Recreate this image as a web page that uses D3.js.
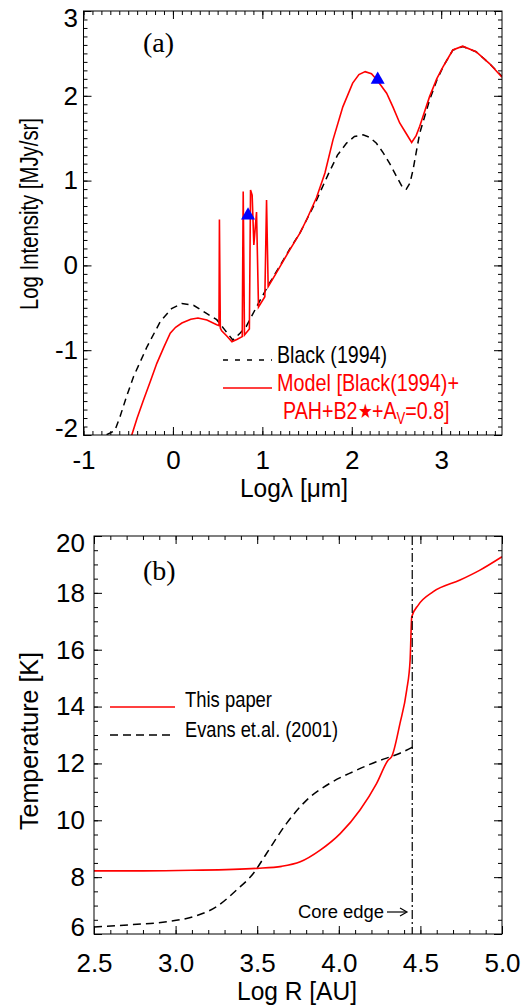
<!DOCTYPE html>
<html>
<head>
<meta charset="utf-8">
<script src="https://cdn.jsdelivr.net/npm/d3@7"></script>
<style>
  body { margin: 0; background: #fff; }
  svg { display: block; }
</style>
</head>
<body>
<svg id="chart" width="524" height="1005"></svg>
<script>
// ---- panel (a): SED, log lambda [um] vs log intensity [MJy/sr]
var lamBlack = [-1.0, -0.93, -0.75, -0.65, -0.59, -0.52, -0.44, -0.29, -0.14, -0.015, 0.10, 0.23, 0.38, 0.49, 0.58, 0.67,
    0.75, 0.82, 0.95, 1.08, 1.20, 1.31, 1.42, 1.606, 1.735, 1.84, 1.94, 2.03, 2.126, 2.20, 2.276, 2.35, 2.425, 2.50,
    2.573, 2.61, 2.65, 2.685, 2.72, 2.76, 2.87, 2.95, 3.02, 3.13, 3.243, 3.39, 3.54, 3.68];
var intBlack = [-2.07, -2.04, -2.0, -1.95, -1.78, -1.55, -1.31, -0.96, -0.66, -0.51, -0.45, -0.47, -0.57, -0.64, -0.76, -0.88,
    -0.80, -0.72, -0.46, -0.21, 0.0, 0.20, 0.38, 0.77, 1.07, 1.30, 1.44, 1.52, 1.54, 1.51, 1.44, 1.33, 1.20, 1.05,
    0.91, 0.90, 0.97, 1.125, 1.33, 1.56, 1.95, 2.18, 2.34, 2.54, 2.58, 2.52, 2.38, 2.23];

var lamModel = [-0.49, -0.46, -0.40, -0.33, -0.25, -0.18, -0.10, -0.03, 0.03, 0.10, 0.20, 0.28, 0.38, 0.49,
    0.515, 0.52, 0.53, 0.545, 0.60, 0.66, 0.72, 0.775, 0.786, 0.80, 0.855, 0.868, 0.886, 0.905, 0.935, 0.957,
    1.028, 1.047, 1.065, 1.15, 1.31, 1.42, 1.50, 1.606, 1.70, 1.79, 1.90, 2.01, 2.08, 2.15, 2.22, 2.28, 2.39,
    2.46, 2.536, 2.60, 2.67, 2.72, 2.76, 2.87, 2.95, 3.02, 3.13, 3.24, 3.39, 3.54, 3.68];
var intModel = [-2.15, -2.0, -1.80, -1.59, -1.36, -1.155, -0.96, -0.80, -0.73, -0.68, -0.635, -0.62, -0.645, -0.70,
    -0.71, 0.54, -0.74, -0.77, -0.83, -0.90, -0.87, -0.84, 0.87, -0.82, -0.75, 0.89, 0.83, 0.24, 0.63, -0.49,
    -0.37, 0.77, -0.25, -0.10, 0.19, 0.38, 0.55, 0.80, 1.09, 1.48, 1.87, 2.15, 2.25, 2.285, 2.26, 2.19, 2.03,
    1.87, 1.68, 1.57, 1.45, 1.53, 1.64, 1.99, 2.20, 2.34, 2.54, 2.585, 2.52, 2.38, 2.22];

var lamObs = [0.84, 2.29];
var intObs = [0.59, 2.19];

var aTicksX = [-1, 0, 1, 2, 3];
var aTicksY = [-2, -1, 0, 1, 2, 3];

// ---- panel (b): temperature profile
var logR = [2.5, 2.8, 3.1, 3.5, 3.65, 3.764, 3.886, 4.01, 4.13, 4.232, 4.303, 4.324, 4.375, 4.416, 4.437, 4.447,
    4.487, 4.579, 4.743, 4.865, 5.0];
var tempModel = [8.22, 8.22, 8.24, 8.31, 8.38, 8.54, 8.95, 9.54, 10.36, 11.3, 12.12, 12.24, 13.41, 14.58, 15.64, 17.16,
    17.57, 18.04, 18.45, 18.8, 19.27];

var logREvans = [2.5, 2.74, 2.945, 3.108, 3.25, 3.374, 3.476, 3.558, 3.68, 3.803, 3.945, 4.088, 4.23, 4.375, 4.477];
var tempEvans = [6.25, 6.33, 6.43, 6.61, 6.96, 7.55, 8.13, 8.84, 9.89, 10.71, 11.3, 11.71, 12.06, 12.36, 12.65];

var coreEdge = 4.45;

var bTicksX = [2.5, 3.0, 3.5, 4.0, 4.5, 5.0];
var bTicksY = [6, 8, 10, 12, 14, 16, 18, 20];

var FONT = "'Liberation Sans', Arial, sans-serif";
var RED = "#ff0000";

var svg = d3.select("#chart");
svg.append("rect").attr("width", 524).attr("height", 1005).attr("fill", "#fff");

function zip(xs, ys) {
    return xs.map(function (v, i) { return [v, ys[i]]; });
}

// IDL style box: ticks inward on all four sides, labels only left/bottom
function boxAxes(g, x, y, xMajor, xMinor, yMajor, yMinor, fmtX, fmtY, xLabelOff, yPad) {
    var xl = x.range()[0], xr = x.range()[1], yb = y.range()[0], yt = y.range()[1];

    var defs = [
        [d3.axisBottom(x).tickValues(xMinor).tickSize(-4), "translate(0," + yb + ")"],
        [d3.axisTop(x).tickValues(xMinor).tickSize(-4), "translate(0," + yt + ")"],
        [d3.axisLeft(y).tickValues(yMinor).tickSize(-4), "translate(" + xl + ",0)"],
        [d3.axisRight(y).tickValues(yMinor).tickSize(-4), "translate(" + xr + ",0)"],
        [d3.axisTop(x).tickValues(xMajor).tickSize(-8), "translate(0," + yt + ")"],
        [d3.axisRight(y).tickValues(yMajor).tickSize(-8), "translate(" + xr + ",0)"]
    ];
    defs.forEach(function (a) {
        g.append("g").attr("transform", a[1]).call(a[0].tickFormat("").tickSizeOuter(0))
            .call(function (s) { s.select(".domain").remove(); });
    });

    // bottom with labels
    var bx = g.append("g").attr("transform", "translate(0," + yb + ")")
        .call(d3.axisBottom(x).tickValues(xMajor).tickSize(-8).tickSizeOuter(0).tickFormat(fmtX));
    bx.select(".domain").remove();
    bx.selectAll("text").attr("dy", null).attr("y", xLabelOff);

    // left with labels, end labels pushed inside the box
    var ymin = d3.min(yMajor), ymax = d3.max(yMajor);
    var ly = g.append("g").attr("transform", "translate(" + xl + ",0)")
        .call(d3.axisLeft(y).tickValues(yMajor).tickSize(-8).tickPadding(yPad).tickSizeOuter(0).tickFormat(fmtY));
    ly.select(".domain").remove();
    ly.selectAll("text").attr("y", function (d) {
        if (d === ymax) return 7;
        if (d === ymin) return -7;
        return 0;
    });

    g.selectAll(".tick line").attr("stroke", "#000").attr("stroke-width", 1);
    g.selectAll(".tick text").attr("fill", "#000");
    g.selectAll("g").attr("font-family", FONT).attr("font-size", 26);

    g.append("rect")
        .attr("x", xl).attr("y", yt).attr("width", xr - xl).attr("height", yb - yt)
        .attr("fill", "none").attr("stroke", "#000").attr("stroke-width", 1);
}

// ******************************** panel (a) ********************************
var xA = d3.scaleLinear().domain([-1, 3.68]).range([83.5, 502]);
var yA = d3.scaleLinear().domain([-2, 3]).range([435, 11]);
var gA = svg.append("g");

svg.append("clipPath").attr("id", "clipA").append("rect")
    .attr("x", 83.5).attr("y", 11).attr("width", 502 - 83.5).attr("height", 435 - 11);

var lineA = d3.line().x(function (d) { return xA(d[0]); }).y(function (d) { return yA(d[1]); });

var plotA = gA.append("g").attr("clip-path", "url(#clipA)");
plotA.append("path").datum(zip(lamBlack, intBlack))
    .attr("d", lineA).attr("fill", "none").attr("stroke", "#000")
    .attr("stroke-width", 1.5).attr("stroke-dasharray", "7,5");
plotA.append("path").datum(zip(lamModel, intModel))
    .attr("d", lineA).attr("fill", "none").attr("stroke", RED)
    .attr("stroke-width", 1.6).attr("stroke-linejoin", "miter");

plotA.selectAll("path.obs").data(zip(lamObs, intObs)).enter().append("path")
    .attr("class", "obs")
    .attr("d", d3.symbol(d3.symbolTriangle).size(85))
    .attr("transform", function (d) { return "translate(" + xA(d[0]) + "," + yA(d[1]) + ")"; })
    .attr("fill", "#0000ff");

var fmtInt = function (d) { return String(d); };
boxAxes(gA, xA, yA, aTicksX, d3.range(-1, 3.7, 0.1).map(function (v) { return +v.toFixed(1); }),
    aTicksY, d3.range(-2, 3.01, 0.1).map(function (v) { return +v.toFixed(1); }),
    fmtInt, fmtInt, 34, 5.5);

gA.append("text").attr("x", 143).attr("y", 52)
    .attr("font-family", "'Liberation Serif', 'Times New Roman', serif").attr("font-size", 28)
    .text("(a)");

gA.append("text")
    .attr("transform", "translate(38,214) rotate(-90)")
    .attr("text-anchor", "middle").attr("font-family", FONT).attr("font-size", 26)
    .attr("textLength", 192).attr("lengthAdjust", "spacingAndGlyphs")
    .text("Log Intensity [MJy/sr]");

gA.append("text").attr("x", 294).attr("y", 497)
    .attr("text-anchor", "middle").attr("font-family", FONT).attr("font-size", 25)
    .attr("textLength", 108).attr("lengthAdjust", "spacingAndGlyphs")
    .text("Log\u03bb [\u03bcm]");

// legend (a)
gA.append("line").attr("x1", 223).attr("x2", 272).attr("y1", 360).attr("y2", 360)
    .attr("stroke", "#000").attr("stroke-width", 1.5).attr("stroke-dasharray", "5,7");
gA.append("text").attr("x", 277).attr("y", 363)
    .attr("font-family", FONT).attr("font-size", 24)
    .attr("textLength", 110).attr("lengthAdjust", "spacingAndGlyphs")
    .text("Black (1994)");
gA.append("line").attr("x1", 223).attr("x2", 272).attr("y1", 388).attr("y2", 388)
    .attr("stroke", RED).attr("stroke-width", 1.5);
gA.append("text").attr("x", 277).attr("y", 391).attr("fill", RED)
    .attr("font-family", FONT).attr("font-size", 24)
    .attr("textLength", 182).attr("lengthAdjust", "spacingAndGlyphs")
    .text("Model [Black(1994)+");
// second line is condensed with a horizontal scale (no narrow font installed)
var l2 = gA.append("g").attr("transform", "translate(283,419) scale(0.82,1)")
    .append("text").attr("fill", RED)
    .attr("font-family", FONT).attr("font-size", 24);
l2.append("tspan").text("PAH+B2");
l2.append("tspan").attr("font-size", 20).attr("dy", -1).text("\u2605");
l2.append("tspan").attr("dy", 1).text("+A");
l2.append("tspan").attr("font-size", 16).attr("dy", 5).text("V");
l2.append("tspan").attr("dy", -5).text("=0.8]");

// ******************************** panel (b) ********************************
var xB = d3.scaleLinear().domain([2.5, 5]).range([94, 502]);
var yB = d3.scaleLinear().domain([6, 20]).range([934, 536]);
var gB = svg.append("g");

svg.append("clipPath").attr("id", "clipB").append("rect")
    .attr("x", 94).attr("y", 536).attr("width", 502 - 94).attr("height", 934 - 536);

var lineB = d3.line().curve(d3.curveMonotoneX)
    .x(function (d) { return xB(d[0]); }).y(function (d) { return yB(d[1]); });

var plotB = gB.append("g").attr("clip-path", "url(#clipB)");
plotB.append("path").datum(zip(logREvans, tempEvans))
    .attr("d", lineB).attr("fill", "none").attr("stroke", "#000")
    .attr("stroke-width", 1.5).attr("stroke-dasharray", "8,5");
plotB.append("path").datum(zip(logR, tempModel))
    .attr("d", lineB).attr("fill", "none").attr("stroke", RED).attr("stroke-width", 1.6);
plotB.append("line")
    .attr("x1", xB(coreEdge)).attr("x2", xB(coreEdge)).attr("y1", yB(20)).attr("y2", yB(6))
    .attr("stroke", "#000").attr("stroke-width", 1.2).attr("stroke-dasharray", "9,3,2,3");

boxAxes(gB, xB, yB, bTicksX, d3.range(2.5, 5.01, 0.1).map(function (v) { return +v.toFixed(1); }),
    bTicksY, d3.range(6, 20.01, 0.5),
    d3.format(".1f"), fmtInt, 38, 9);

gB.append("text").attr("x", 143).attr("y", 580)
    .attr("font-family", "'Liberation Serif', 'Times New Roman', serif").attr("font-size", 28)
    .text("(b)");

gB.append("text")
    .attr("transform", "translate(37.5,741) rotate(-90)")
    .attr("text-anchor", "middle").attr("font-family", FONT).attr("font-size", 26)
    .attr("textLength", 178).attr("lengthAdjust", "spacingAndGlyphs")
    .text("Temperature [K]");

gB.append("text").attr("x", 297).attr("y", 1000)
    .attr("text-anchor", "middle").attr("font-family", FONT).attr("font-size", 25)
    .attr("textLength", 120).attr("lengthAdjust", "spacingAndGlyphs")
    .text("Log R [AU]");

// core edge label, arrow pointing at the dash-dot line
gB.append("text").attr("x", 298).attr("y", 918)
    .attr("font-family", FONT).attr("font-size", 18)
    .attr("textLength", 86).attr("lengthAdjust", "spacingAndGlyphs")
    .text("Core edge");
gB.append("line").attr("x1", 387).attr("x2", 406).attr("y1", 912).attr("y2", 912)
    .attr("stroke", "#000").attr("stroke-width", 1.2);
gB.append("path").attr("d", "M400,908 L407,912 L400,916")
    .attr("fill", "none").attr("stroke", "#000").attr("stroke-width", 1.2);

// legend (b)
gB.append("line").attr("x1", 110).attr("x2", 175).attr("y1", 707).attr("y2", 707)
    .attr("stroke", RED).attr("stroke-width", 1.5);
gB.append("text").attr("x", 185).attr("y", 707)
    .attr("font-family", FONT).attr("font-size", 22)
    .attr("textLength", 87).attr("lengthAdjust", "spacingAndGlyphs")
    .text("This paper");
gB.append("line").attr("x1", 110).attr("x2", 175).attr("y1", 735).attr("y2", 735)
    .attr("stroke", "#000").attr("stroke-width", 1.5).attr("stroke-dasharray", "8,5");
gB.append("text").attr("x", 185).attr("y", 737)
    .attr("font-family", FONT).attr("font-size", 22)
    .attr("textLength", 153).attr("lengthAdjust", "spacingAndGlyphs")
    .text("Evans et.al. (2001)");
</script>
</body>
</html>
